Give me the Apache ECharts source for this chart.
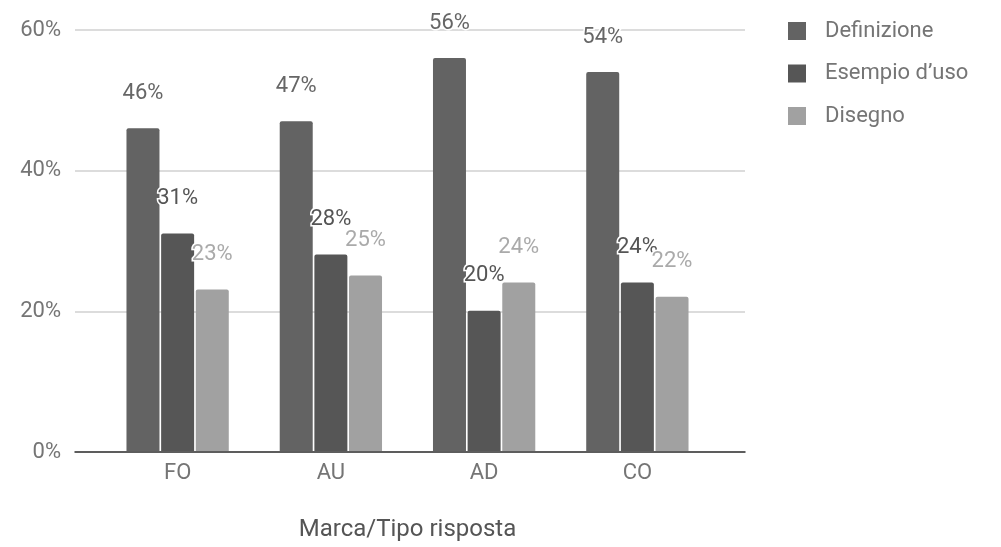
<!DOCTYPE html>
<html>
<head>
<meta charset="utf-8">
<script src="https://cdn.jsdelivr.net/npm/echarts@6/dist/echarts.min.js"></script>
<style>
  html, body { margin: 0; padding: 0; background: #fff; }
  #chart { width: 1001px; height: 547px; }
</style>
</head>
<body>
<div id="chart"></div>
<script>
var categories = ["FO", "AU", "AD", "CO"];
var definizione = [46, 47, 56, 54];
var esempio = [31, 28, 20, 24];
var disegno = [23, 25, 24, 22];
var yTicks = [0, 20, 40, 60];

var font = "Roboto";
var chart = echarts.init(document.getElementById("chart"));

function labelStyle(color) {
  return {
    show: true,
    position: "top",
    distance: 24,
    formatter: "{c}%",
    color: color,
    fontFamily: font,
    fontSize: 22,
    textBorderColor: "#fff",
    textBorderWidth: 3
  };
}

var option = {
  animation: false,
  backgroundColor: "#fff",
  legend: {
    orient: "vertical",
    left: 783,
    top: 15,
    itemWidth: 18,
    itemHeight: 18,
    itemGap: 20.5,
    icon: "rect",
    textStyle: { color: "#757575", fontFamily: font, fontSize: 22, padding: [0, 0, 0, 14] },
    data: ["Definizione", "Esempio d\u2019uso", "Disegno"]
  },
  grid: [
    { left: 75, right: 256, top: 30, bottom: 95 },
    { left: 101, width: 613, top: 30, bottom: 95 }
  ],
  xAxis: [
    {
      gridIndex: 0, type: "value", min: 0, max: 1,
      axisLine: { show: true, lineStyle: { color: "#333", width: 1.5 } },
      axisTick: { show: false }, axisLabel: { show: false }, splitLine: { show: false }
    },
    {
      gridIndex: 1, type: "category", data: categories,
      axisLine: { show: false }, axisTick: { show: false },
      axisLabel: { color: "#757575", fontFamily: font, fontSize: 22, margin: 11 },
      name: "Marca/Tipo risposta", nameLocation: "middle", nameGap: 67,
      nameTextStyle: { color: "#555", fontFamily: font, fontSize: 24 }
    }
  ],
  yAxis: [
    {
      gridIndex: 0, type: "value", min: yTicks[0], max: yTicks[yTicks.length - 1], interval: 20,
      axisLine: { show: false }, axisTick: { show: false },
      axisLabel: { color: "#757575", fontFamily: font, fontSize: 22, margin: 14, formatter: "{value}%" },
      splitLine: { lineStyle: { color: "#d0d0d0", width: 1.5 } }
    },
    {
      gridIndex: 1, type: "value", min: yTicks[0], max: yTicks[yTicks.length - 1],
      show: false, splitLine: { show: false }
    }
  ],
  series: [
    {
      name: "Definizione", type: "bar", xAxisIndex: 1, yAxisIndex: 1,
      data: definizione, barWidth: 33, barGap: "5%",
      itemStyle: { color: "#636363", borderRadius: [2, 2, 0, 0] },
      label: labelStyle("#666")
    },
    {
      name: "Esempio d\u2019uso", type: "bar", xAxisIndex: 1, yAxisIndex: 1,
      data: esempio, barWidth: 33, barGap: "5%",
      itemStyle: { color: "#565656", borderRadius: [2, 2, 0, 0] },
      label: labelStyle("#555")
    },
    {
      name: "Disegno", type: "bar", xAxisIndex: 1, yAxisIndex: 1,
      data: disegno, barWidth: 33, barGap: "5%",
      itemStyle: { color: "#a1a1a1", borderRadius: [2, 2, 0, 0] },
      label: labelStyle("#aaa")
    }
  ]
};

chart.setOption(option);
</script>
</body>
</html>
